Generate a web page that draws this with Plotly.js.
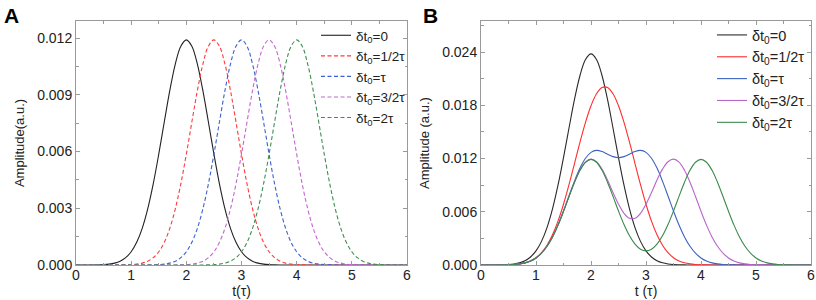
<!DOCTYPE html>
<html>
<head>
<meta charset="utf-8">
<script src="https://cdn.plot.ly/plotly-3.0.1.min.js"></script>
<style>
html,body{margin:0;padding:0;background:#fff;}
#chart{width:816px;height:300px;}
</style>
</head>
<body>
<div id="chart"></div>
<script>
// time axis t (in units of tau)
const t = [0,0.1,0.2,0.3,0.4,0.5,0.6,0.7,0.8,0.9,1,1.1,1.2,1.3,1.4,1.5,1.6,1.7,1.8,1.9,2,2.1,2.2,2.3,2.4,2.5,2.6,2.7,2.8,2.9,3,3.1,3.2,3.3,3.4,3.5,3.6,3.7,3.8,3.9,4,4.1,4.2,4.3,4.4,4.5,4.6,4.7,4.8,4.9,5,5.1,5.2,5.3,5.4,5.5,5.6,5.7,5.8,5.9,6];

const legendNames = ["δt<sub>0</sub>=0","δt<sub>0</sub>=1/2τ","δt<sub>0</sub>=τ","δt<sub>0</sub>=3/2τ","δt<sub>0</sub>=2τ"];
const xTickVals = [0,1,2,3,4,5,6];
const yTickValsA = [0,0.003,0.006,0.009,0.012];
const yTickValsB = [0,0.006,0.012,0.018,0.024];

// Panel A: single pulses
const aDt0 = [0,0,0.000001,0.000003,0.000008,0.00002,0.000046,0.000099,0.000201,0.000386,0.000699,0.001198,0.001939,0.002967,0.004289,0.005859,0.007561,0.00922,0.010624,0.011567,0.0119,0.011567,0.010624,0.00922,0.007561,0.005859,0.004289,0.002967,0.001939,0.001198,0.000699,0.000386,0.000201,0.000099,0.000046,0.00002,0.000008,0.000003,0.000001,0,0,0,0,0,0,0,0,0,0,0,0,0,0,0,0,0,0,0,0,0,0];
const aDtHalf = [0,0,0,0,0,0,0,0.000001,0.000003,0.000008,0.00002,0.000046,0.000099,0.000201,0.000386,0.000699,0.001198,0.001939,0.002967,0.004289,0.005859,0.007561,0.00922,0.010624,0.011567,0.0119,0.011567,0.010624,0.00922,0.007561,0.005859,0.004289,0.002967,0.001939,0.001198,0.000699,0.000386,0.000201,0.000099,0.000046,0.00002,0.000008,0.000003,0.000001,0,0,0,0,0,0,0,0,0,0,0,0,0,0,0,0,0];
const aDt1 = [0,0,0,0,0,0,0,0,0,0,0,0,0.000001,0.000003,0.000008,0.00002,0.000046,0.000099,0.000201,0.000386,0.000699,0.001198,0.001939,0.002967,0.004289,0.005859,0.007561,0.00922,0.010624,0.011567,0.0119,0.011567,0.010624,0.00922,0.007561,0.005859,0.004289,0.002967,0.001939,0.001198,0.000699,0.000386,0.000201,0.000099,0.000046,0.00002,0.000008,0.000003,0.000001,0,0,0,0,0,0,0,0,0,0,0,0];
const aDt3Half = [0,0,0,0,0,0,0,0,0,0,0,0,0,0,0,0,0,0.000001,0.000003,0.000008,0.00002,0.000046,0.000099,0.000201,0.000386,0.000699,0.001198,0.001939,0.002967,0.004289,0.005859,0.007561,0.00922,0.010624,0.011567,0.0119,0.011567,0.010624,0.00922,0.007561,0.005859,0.004289,0.002967,0.001939,0.001198,0.000699,0.000386,0.000201,0.000099,0.000046,0.00002,0.000008,0.000003,0.000001,0,0,0,0,0,0,0];
const aDt2 = [0,0,0,0,0,0,0,0,0,0,0,0,0,0,0,0,0,0,0,0,0,0,0.000001,0.000003,0.000008,0.00002,0.000046,0.000099,0.000201,0.000386,0.000699,0.001198,0.001939,0.002967,0.004289,0.005859,0.007561,0.00922,0.010624,0.011567,0.0119,0.011567,0.010624,0.00922,0.007561,0.005859,0.004289,0.002967,0.001939,0.001198,0.000699,0.000386,0.000201,0.000099,0.000046,0.00002,0.000008,0.000003,0.000001,0,0];

// Panel B: superposed pulses
const bDt0 = [0,0.000002,0.000004,0.00001,0.000024,0.000054,0.000118,0.000246,0.000484,0.000902,0.001592,0.002662,0.004216,0.006326,0.00899,0.012106,0.01544,0.018658,0.02136,0.023166,0.0238,0.023166,0.02136,0.018658,0.01544,0.012106,0.00899,0.006326,0.004216,0.002662,0.001592,0.000902,0.000484,0.000246,0.000118,0.000054,0.000024,0.00001,0.000004,0.000002,0,0,0,0,0,0,0,0,0,0,0,0,0,0,0,0,0,0,0,0,0];
const bDtHalf = [0,0.000001,0.000002,0.000005,0.000012,0.000027,0.00006,0.000125,0.000247,0.000463,0.000823,0.00139,0.002231,0.003405,0.004946,0.006849,0.009051,0.011437,0.013843,0.016078,0.017953,0.019303,0.020009,0.020009,0.019303,0.017953,0.016078,0.013843,0.011437,0.009051,0.006849,0.004946,0.003405,0.002231,0.00139,0.000823,0.000463,0.000247,0.000125,0.00006,0.000027,0.000012,0.000005,0.000002,0.000001,0,0,0,0,0,0,0,0,0,0,0,0,0,0,0,0];
const bDt1 = [0,0.000001,0.000002,0.000005,0.000012,0.000027,0.000059,0.000123,0.000242,0.000451,0.000796,0.001332,0.00211,0.003168,0.004507,0.00608,0.007779,0.009452,0.010922,0.012034,0.012696,0.012914,0.012788,0.012492,0.012215,0.012106,0.012215,0.012492,0.012788,0.012914,0.012696,0.012034,0.010922,0.009452,0.007779,0.00608,0.004507,0.003168,0.00211,0.001332,0.000796,0.000451,0.000242,0.000123,0.000059,0.000027,0.000012,0.000005,0.000002,0.000001,0,0,0,0,0,0,0,0,0,0,0];
const bDt3Half = [0,0.000001,0.000002,0.000005,0.000012,0.000027,0.000059,0.000123,0.000242,0.000451,0.000796,0.001331,0.002108,0.003163,0.004495,0.006053,0.007721,0.009331,0.010685,0.011595,0.011927,0.011642,0.010803,0.009571,0.008171,0.006849,0.005826,0.005271,0.005271,0.005826,0.006849,0.008171,0.009571,0.010803,0.011642,0.011927,0.011595,0.010685,0.009331,0.007721,0.006053,0.004495,0.003163,0.002108,0.001331,0.000796,0.000451,0.000242,0.000123,0.000059,0.000027,0.000012,0.000005,0.000002,0.000001,0,0,0,0,0,0];
const bDt2 = [0,0.000001,0.000002,0.000005,0.000012,0.000027,0.000059,0.000123,0.000242,0.000451,0.000796,0.001331,0.002108,0.003163,0.004495,0.006053,0.00772,0.009329,0.01068,0.011583,0.0119,0.011584,0.010682,0.009334,0.007732,0.00608,0.004554,0.003286,0.00235,0.001782,0.001592,0.001782,0.00235,0.003286,0.004554,0.00608,0.007732,0.009334,0.010682,0.011584,0.0119,0.011583,0.01068,0.009329,0.00772,0.006053,0.004495,0.003163,0.002108,0.001331,0.000796,0.000451,0.000242,0.000123,0.000059,0.000027,0.000012,0.000005,0.000002,0.000001,0];

const colorsA = ["#222222","#ff3a3a","#3a62d0","#c466d0","#3f8f50"];
const colorsB = ["#2a2a2a","#ff2e2e","#3a62c0","#b865c8","#3a8a4c"];

const seriesA = [aDt0,aDtHalf,aDt1,aDt3Half,aDt2];
const seriesB = [bDt0,bDtHalf,bDt1,bDt3Half,bDt2];

const traces = [];
seriesA.forEach((y,i)=>{
  traces.push({x:t,y:y,type:'scatter',mode:'lines',name:legendNames[i],
    xaxis:'x',yaxis:'y',legend:'legend',
    line:{color:colorsA[i],width:1.1,shape:'spline',dash: i===0?'solid':'4px,2.5px'}});
});
seriesB.forEach((y,i)=>{
  traces.push({x:t,y:y,type:'scatter',mode:'lines',name:legendNames[i],
    xaxis:'x2',yaxis:'y2',legend:'legend2',
    line:{color:colorsB[i],width:1.1,shape:'spline'}});
});

const fontFam = '"Liberation Sans", Arial, sans-serif';
const axisCommon = {
  showline:true, linecolor:'#9a9a9a', linewidth:1, mirror:'ticks',
  ticks:'inside', ticklen:4, tickcolor:'#9a9a9a', tickwidth:1,
  showgrid:false, zeroline:false, ticklabeloverflow:'allow',
  tickfont:{family:fontFam,size:14,color:'#222'}
};

const layout = {
  width:816, height:300,
  margin:{l:0,r:0,t:0,b:0},
  paper_bgcolor:'#fff', plot_bgcolor:'#fff',
  showlegend:true,
  font:{family:fontFam,color:'#222'},
  xaxis:Object.assign({}, axisCommon, {
    domain:[76/816, 407/816], range:[0,6], tickvals:xTickVals, anchor:'y', ticklabelstandoff:-3,
    minor:{dtick:0.5, ticks:'inside', ticklen:2.5, tickcolor:'#9a9a9a'},
    title:{text:'t(τ)', font:{family:fontFam,size:14,color:'#222'}, standoff:0}
  }),
  yaxis:Object.assign({}, axisCommon, {
    domain:[35/300, 279/300], range:[0,0.0129], tickvals:yTickValsA, tickformat:'.3f', anchor:'x',
    minor:{dtick:0.0015, ticks:'inside', ticklen:2.5, tickcolor:'#9a9a9a'},
    title:{text:'Amplitude(a.u.)', font:{family:fontFam,size:13,color:'#222'}, standoff:9}
  }),
  xaxis2:Object.assign({}, axisCommon, {
    domain:[481/816, 811/816], range:[0,6], tickvals:xTickVals, anchor:'y2', ticklabelstandoff:-3,
    minor:{dtick:0.5, ticks:'inside', ticklen:2.5, tickcolor:'#9a9a9a'},
    title:{text:'t (τ)', font:{family:fontFam,size:14,color:'#222'}, standoff:0}
  }),
  yaxis2:Object.assign({}, axisCommon, {
    domain:[35/300, 279/300], range:[0,0.0275], tickvals:yTickValsB, tickformat:'.3f', anchor:'x2',
    minor:{dtick:0.003, ticks:'inside', ticklen:2.5, tickcolor:'#9a9a9a'},
    title:{text:'Amplitude (a.u.)', font:{family:fontFam,size:13,color:'#222'}, standoff:9}
  }),
  legend:{x:316/816, y:1-20/300, xanchor:'left', yanchor:'top', bgcolor:'rgba(0,0,0,0)',
    font:{family:fontFam,size:13.5,color:'#222'}, itemwidth:30, tracegroupgap:0},
  legend2:{x:712/816, y:1-19/300, xanchor:'left', yanchor:'top', bgcolor:'rgba(0,0,0,0)',
    font:{family:fontFam,size:14.5,color:'#222'}, itemwidth:30, tracegroupgap:0},
  annotations:[
    {text:'<b>A</b>', x:2/816, y:1-2/300, xref:'paper', yref:'paper', xanchor:'left', yanchor:'top', showarrow:false,
     font:{family:fontFam,size:21,color:'#000'}},
    {text:'<b>B</b>', x:421/816, y:1-2/300, xref:'paper', yref:'paper', xanchor:'left', yanchor:'top', showarrow:false,
     font:{family:fontFam,size:21,color:'#000'}}
  ]
};

Plotly.newPlot('chart', traces, layout, {displayModeBar:false, staticPlot:true});
</script>
</body>
</html>
